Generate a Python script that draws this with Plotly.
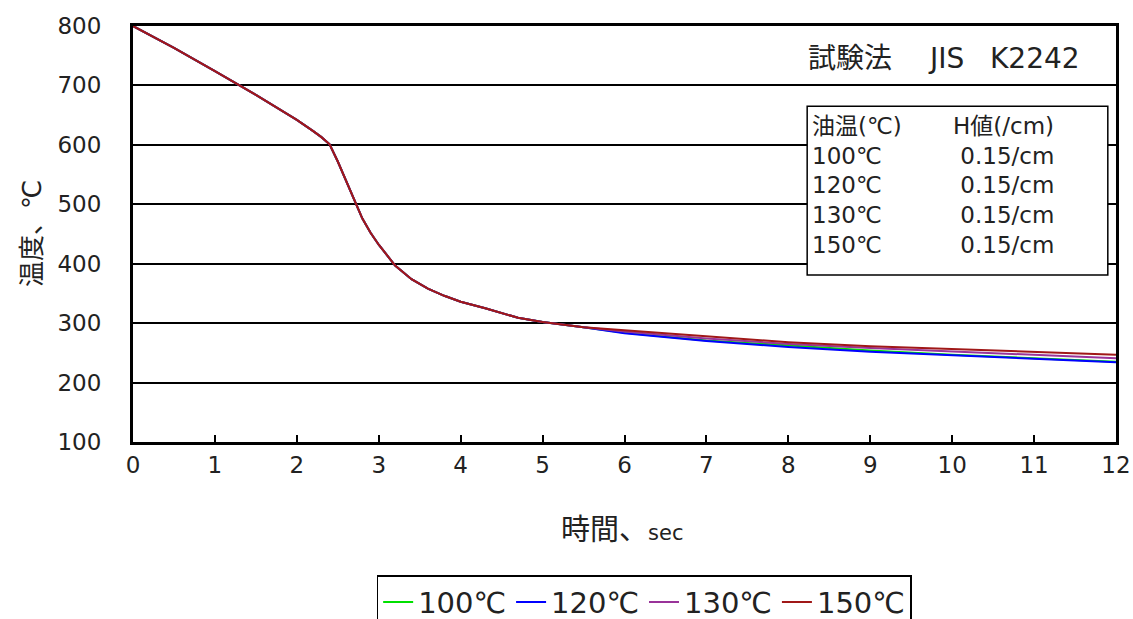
import plotly.graph_objects as go

# time axis (sec)
time_common = [0, 0.5, 1, 1.5, 2, 2.1, 2.2, 2.3, 2.4, 2.5, 2.6, 2.7, 2.8, 2.9, 3.0, 3.2, 3.4, 3.6, 3.8, 4.0, 4.3, 4.7, 5.0, 5.5]
temp_common = [800, 763, 724, 684, 642, 633, 623, 613, 601, 572, 540, 508, 476, 452, 432, 397, 374, 358, 346, 336, 325, 309, 302, 293]
time_tail = [6, 7, 8, 9, 10, 11, 12]
tail_100 = [284, 271, 262, 254, 247, 241, 235]
tail_120 = [283, 270, 260, 252, 246, 240, 234]
tail_130 = [286, 274, 265, 258, 252, 246, 241]
tail_150 = [288, 277, 268, 261, 256, 251, 247]

series_names = ["100℃", "120℃", "130℃", "150℃"]
series_tails = [tail_100, tail_120, tail_130, tail_150]
series_colors = ["#00E000", "#0000FF", "#993399", "#A01818"]

x_ticks = list(range(0, 13))
y_ticks = [100, 200, 300, 400, 500, 600, 700, 800]

method_parts = ["試験法", "JIS", "K2242"]
info_rows = [("油温(℃)", "H値(/cm)"), ("100℃", " 0.15/cm"), ("120℃", " 0.15/cm"),
             ("130℃", " 0.15/cm"), ("150℃", " 0.15/cm")]

FONT = "DejaVu Sans, Noto Sans CJK JP"
TXT = "#222"

fig = go.Figure()
for name, tail, color in zip(series_names, series_tails, series_colors):
    fig.add_trace(go.Scatter(x=time_common + time_tail, y=temp_common + tail,
                             mode="lines", name=name,
                             line=dict(color=color, width=2)))

fig.update_layout(
    width=1133, height=619,
    margin=dict(l=133, r=17, t=26, b=177, autoexpand=False),
    paper_bgcolor="white", plot_bgcolor="white",
    font=dict(family=FONT, size=22, color=TXT),
    showlegend=True,
    legend=dict(orientation="h", x=0.52, xanchor="center", y=-0.32, yanchor="top",
                bordercolor="black", borderwidth=1.5, font=dict(size=29, family=FONT),
                tracegroupgap=0, itemwidth=30),
)
fig.update_xaxes(range=[0, 12], tickvals=x_ticks, showgrid=False, zeroline=False,
                 showline=True, linecolor="black", linewidth=3, mirror=True,
                 ticks="inside", ticklen=7, tickcolor="black", tickwidth=1.5,
                 ticklabelstandoff=0, automargin=False, tickfont=dict(size=23))
fig.update_yaxes(range=[100, 800], tickvals=y_ticks, showgrid=True, gridcolor="black",
                 gridwidth=1.5, zeroline=False,
                 showline=True, linecolor="black", linewidth=3, mirror=True,
                 ticks="", ticklabelstandoff=24, automargin=False, tickfont=dict(size=23))

# axis titles
fig.add_annotation(xref="paper", yref="paper", x=0.497, y=-0.257, showarrow=False,
                   text="時間、<span style='font-size:21px'>sec</span>",
                   font=dict(size=29, family=FONT, color=TXT))
fig.add_annotation(xref="paper", yref="paper", x=-0.12, y=0.50, showarrow=False,
                   text="温度、℃", textangle=-90,
                   font=dict(size=26, family=FONT, color=TXT))

# method label
for part, xc in zip(method_parts, [8.75, 9.92, 11.01]):
    fig.add_annotation(xref="x", yref="y", x=xc, y=745, xanchor="center", showarrow=False,
                       text=part, font=dict(size=28, family=FONT, color=TXT))

# info box
fig.add_shape(type="rect", xref="x", yref="y", x0=8.23, x1=11.9, y0=381, y1=665,
              fillcolor="white", line=dict(color="black", width=1.5), layer="above")
row_y = [632, 581, 532, 482, 431]
for (c1, c2), yy in zip(info_rows, row_y):
    fig.add_annotation(xref="x", yref="y", x=8.27, y=yy, xanchor="left", showarrow=False,
                       text=c1, font=dict(size=23, family=FONT, color=TXT))
    fig.add_annotation(xref="x", yref="y", x=9.98, y=yy, xanchor="left", showarrow=False,
                       text=c2, font=dict(size=23, family=FONT, color=TXT))

fig.write_html("out.html", config={"displayModeBar": False},
               post_script="document.body.style.margin='0';document.body.style.overflow='hidden';")
